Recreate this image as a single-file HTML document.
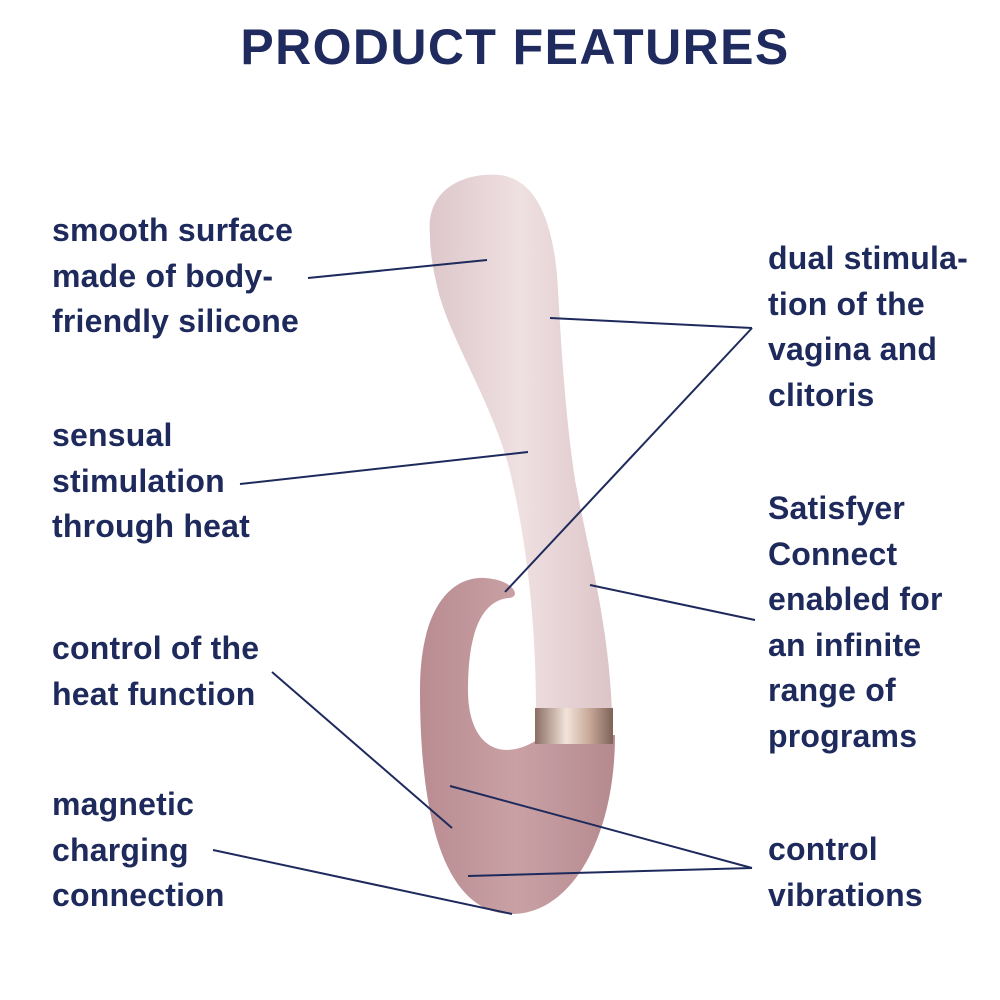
<!DOCTYPE html>
<html><head><meta charset="utf-8"><style>
html,body{margin:0;padding:0;background:#fff;}
#c{position:relative;width:1000px;height:1000px;overflow:hidden;font-family:"Liberation Sans",sans-serif;color:#1e2a5c;}
.t{position:absolute;left:0;width:1030px;top:18px;text-align:center;font-weight:bold;font-size:50px;letter-spacing:1.4px;color:#1f2a5e;}
.l{position:absolute;font-size:32px;font-weight:bold;letter-spacing:0.2px;line-height:45.5px;white-space:nowrap;}
svg{position:absolute;left:0;top:0;}
</style></head><body><div id="c">
<svg width="1000" height="1000">
<defs>
<linearGradient id="sh" x1="0" x2="1" y1="0" y2="0">
<stop offset="0" stop-color="#ddc7ca"/><stop offset="0.5" stop-color="#efe0e1"/><stop offset="1" stop-color="#dcc4c7"/>
</linearGradient>
<linearGradient id="arm" x1="0" x2="1" y1="0" y2="0">
<stop offset="0" stop-color="#b98c91"/><stop offset="0.5" stop-color="#c9a1a5"/><stop offset="1" stop-color="#b58a8f"/>
</linearGradient>
<linearGradient id="ring" x1="0" x2="1" y1="0" y2="0">
<stop offset="0" stop-color="#8a6d63"/><stop offset="0.4" stop-color="#f3e3da"/><stop offset="0.7" stop-color="#c8a898"/><stop offset="1" stop-color="#7d6258"/>
</linearGradient>
</defs>
<path d="M615,735 C615,840 570,914 512,914 C445,914 420,820 420,690 C420,610 450,576 485,578 C515,580 522,598 508,598 C478,602 468,640 468,690 C468,745 500,765 540,738 Z" fill="url(#arm)"/>
<path d="M430,235 C425,185 470,172 500,175 C540,180 555,230 558,290 C562,360 566,420 575,480 C590,560 608,620 612,712 L536,712 C536,640 530,560 512,480 C497,410 450,340 438,290 C432,265 430,250 430,235 Z" fill="url(#sh)"/>
<rect x="535" y="708" width="78" height="36" fill="url(#ring)"/>
<g stroke="#1e2a5c" stroke-width="2" fill="none">
<line x1="308" y1="278" x2="487" y2="260"/>
<line x1="240" y1="484" x2="528" y2="452"/>
<line x1="272" y1="672" x2="452" y2="828"/>
<line x1="213" y1="850" x2="512" y2="914"/>
<line x1="752" y1="328" x2="550" y2="318"/>
<line x1="752" y1="328" x2="505" y2="592"/>
<line x1="755" y1="620" x2="590" y2="585"/>
<line x1="752" y1="868" x2="450" y2="786"/>
<line x1="752" y1="868" x2="468" y2="876"/>
</g>
</svg>
<div class="t">PRODUCT FEATURES</div>
<div class="l" style="left:52px;top:208px">smooth surface<br>made of body-<br>friendly silicone</div>
<div class="l" style="left:52px;top:413px">sensual<br>stimulation<br>through heat</div>
<div class="l" style="left:52px;top:626px">control of the<br>heat function</div>
<div class="l" style="left:52px;top:782px">magnetic<br>charging<br>connection</div>
<div class="l" style="left:768px;top:236px">dual stimula-<br>tion of the<br>vagina and<br>clitoris</div>
<div class="l" style="left:768px;top:486px">Satisfyer<br>Connect<br>enabled for<br>an infinite<br>range of<br>programs</div>
<div class="l" style="left:768px;top:827px">control<br>vibrations</div>
</div></body></html>
